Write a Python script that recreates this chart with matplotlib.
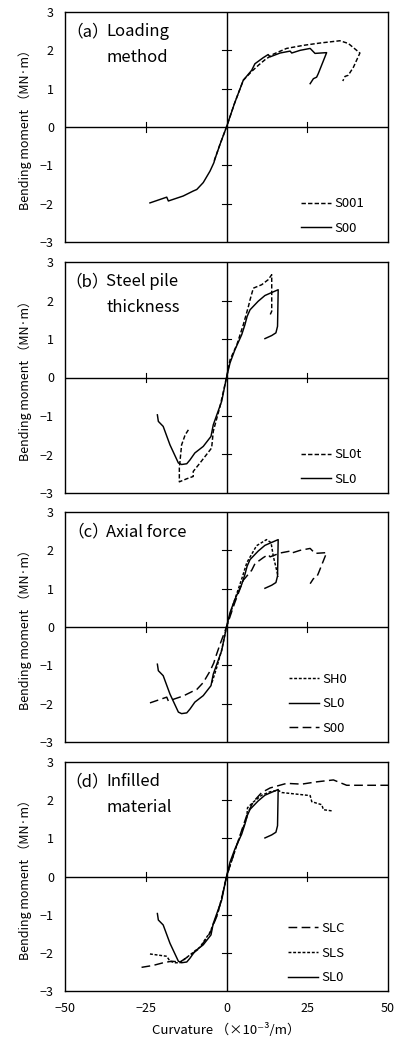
import matplotlib
matplotlib.use("Agg")
import matplotlib.pyplot as plt
import numpy as np

plt.rcParams['font.family'] = ['Noto Sans CJK JP', 'DejaVu Sans']

# ---- data (curvature x10^-3/m, bending moment MN*m) ----
S00_x = [-23.7, -18.5, -18.0, -13.4, -10.3, -9.2, -7.2, -5.1, -3.9, -3.6, -2.0, 0,
         2.5, 5.2, 7.8, 8.8, 11.4, 12.9, 13.5, 16.6, 19.7, 20.2, 22.8, 25.9, 27.4,
         31.0, 28.4, 27.9, 26.9, 25.9]
S00_y = [-1.98, -1.83, -1.93, -1.80, -1.67, -1.63, -1.45, -1.15, -0.93, -0.84, -0.45, 0,
         0.62, 1.22, 1.48, 1.65, 1.81, 1.89, 1.83, 1.93, 1.98, 1.93, 2.00, 2.05, 1.92,
         1.94, 1.39, 1.30, 1.26, 1.13]

S001_x = [-3.8, -2.0, 0, 2.5, 5.2, 7.8, 10.0, 12.0, 14.5, 18.6, 23.8, 28.9, 35.1,
          37.7, 41.3, 39.3, 37.7, 36.7, 36.0]
S001_y = [-0.88, -0.45, 0, 0.62, 1.22, 1.45, 1.62, 1.76, 1.90, 2.05, 2.13, 2.19, 2.25,
          2.18, 1.93, 1.56, 1.35, 1.32, 1.20]

SL0_x = [-21.4, -21.1, -19.6, -17.5, -14.9, -13.9, -12.3, -11.3, -9.8, -7.2, -4.8, -4.1,
         -3.0, -1.5, 0, 1.1, 2.6, 4.7, 5.7, 6.4, 7.3, 9.8, 11.9, 16.0, 15.8, 15.3,
         14.0, 11.9]
SL0_y = [-0.97, -1.14, -1.27, -1.75, -2.22, -2.26, -2.24, -2.14, -1.96, -1.79, -1.53, -1.23,
         -0.97, -0.62, 0, 0.38, 0.72, 1.11, 1.37, 1.59, 1.76, 1.98, 2.13, 2.28, 1.33, 1.16,
         1.09, 1.01]

SL0t_x = [-11.8, -12.8, -13.9, -14.6, -14.6, -12.3, -10.3, -10.3, -8.2, -4.6, -4.1, -2.0,
          0, 1.1, 3.2, 5.2, 6.8, 7.3, 8.3, 10.9, 12.9, 14.0, 14.0, 13.3]
SL0t_y = [-1.36, -1.49, -1.75, -2.35, -2.71, -2.63, -2.57, -2.44, -2.22, -1.83, -1.40, -0.75,
          0, 0.46, 0.85, 1.37, 1.85, 2.02, 2.32, 2.41, 2.54, 2.67, 1.72, 1.59]

SH0_x = [-4.5, -3.0, -1.5, 0, 2.1, 4.7, 6.3, 9.3, 12.4, 13.8, 14.5, 15.5, 16.0]
SH0_y = [-1.45, -1.05, -0.60, 0, 0.60, 1.25, 1.68, 2.12, 2.28, 2.20, 1.84, 1.49, 1.31]

SLC_x = [-26.3, -22.7, -19.6, -17.0, -14.4, -10.8, -8.2, -5.1, -2.8, -1.5, 0, 3.2, 6.3,
         8.3, 10.9, 13.5, 18.6, 23.3, 27.9, 33.1, 37.2, 50.0]
SLC_y = [-2.38, -2.33, -2.26, -2.22, -2.24, -2.04, -1.87, -1.48, -1.00, -0.57, 0, 0.83, 1.61,
         1.96, 2.20, 2.32, 2.44, 2.42, 2.48, 2.53, 2.39, 2.39]

SLS_x = [-23.7, -18.5, -17.5, -15.9, -14.4, -10.8, -8.2, -5.1, -2.8, -1.5, 0, 3.2, 6.3,
         6.5, 8.3, 10.9, 13.5, 16.0, 17.1, 25.9, 26.4, 29.5, 30.0, 32.6]
SLS_y = [-2.03, -2.09, -2.22, -2.26, -2.26, -2.02, -1.85, -1.46, -0.98, -0.57, 0, 0.82, 1.55,
         1.80, 1.95, 2.13, 2.22, 2.26, 2.20, 2.12, 1.96, 1.88, 1.75, 1.72]

y_ticks = [-3, -2, -1, 0, 1, 2, 3]
x_ticks = [-50, -25, 0, 25, 50]

short_dash = (0, (3, 1.5))
fine_dash = (0, (2, 1.2))
long_dash = (0, (6, 3))

# (tag, title lines, series list, legend anchor x)
panels = [
    ("（a）", ["Loading", "method"],
     [(S001_x, S001_y, short_dash, "S001"), (S00_x, S00_y, "-", "S00")], 0.731),
    ("（b）", ["Steel pile", "thickness"],
     [(SL0t_x, SL0t_y, short_dash, "SL0t"), (SL0_x, SL0_y, "-", "SL0")], 0.731),
    ("（c）", ["Axial force"],
     [(SH0_x, SH0_y, fine_dash, "SH0"), (SL0_x, SL0_y, "-", "SL0"),
      (S00_x, S00_y, long_dash, "S00")], 0.693),
    ("（d）", ["Infilled", "material"],
     [(SLC_x, SLC_y, long_dash, "SLC"), (SLS_x, SLS_y, fine_dash, "SLS"),
      (SL0_x, SL0_y, "-", "SL0")], 0.690),
]

W, H = 404, 1039
fig = plt.figure(figsize=(W / 100, H / 100), dpi=100)

# axes boxes in pixels: top, bottom
boxes = [(12, 242), (262, 493), (512, 742), (762, 991)]
left_px, right_px = 65, 388

for i, (tag, lines, series, lx) in enumerate(panels):
    top, bot = boxes[i]
    ax = fig.add_axes([left_px / W, 1 - bot / H, (right_px - left_px) / W, (bot - top) / H])
    ax.set_xlim(-50, 50)
    ax.set_ylim(-3, 3)

    # axes crossing at zero
    ax.axhline(0, color="black", lw=1.0)
    ax.axvline(0, color="black", lw=1.0)
    for v in y_ticks:
        if v not in (-3, 0, 3):
            ax.plot([-1.4, 1.4], [v, v], color="black", lw=0.8)
    for v in x_ticks:
        if v not in (-50, 0, 50):
            ax.plot([v, v], [-0.12, 0.12], color="black", lw=0.8)

    for xs, ys, ls, lab in series:
        ax.plot(xs, ys, color="black", lw=1.05, linestyle=ls, label=lab)

    ax.set_yticks(y_ticks)
    ax.tick_params(axis="y", length=0, pad=8, labelsize=9)
    if i == 3:
        ax.set_xticks(x_ticks)
        ax.tick_params(axis="x", length=0, pad=8, labelsize=9)
        ax.text(0.5, -0.17, "Curvature （×10⁻³/m）", transform=ax.transAxes,
                ha="center", va="center", fontsize=9.5)
    else:
        ax.set_xticks([])

    for sp in ax.spines.values():
        sp.set_linewidth(1.0)
        sp.set_color("black")

    ax.text(-0.124, 0.5, "Bending moment （MN·m）", transform=ax.transAxes,
            rotation=90, ha="center", va="center", fontsize=9)

    h = bot - top
    ax.text(0.136, 1 - 20 / h, tag, transform=ax.transAxes, ha="right", va="center",
            fontsize=12)
    for k, line in enumerate(lines):
        ax.text(0.127, 1 - (20 + 25 * k) / h, line, transform=ax.transAxes,
                ha="left", va="center", fontsize=12)

    ax.legend(loc="lower left", bbox_to_anchor=(lx, 0.03), frameon=False,
              fontsize=9.5, handlelength=2.3, handletextpad=0.25, labelspacing=0.88,
              borderpad=0, borderaxespad=0)

fig.savefig("out.png", dpi=100)
